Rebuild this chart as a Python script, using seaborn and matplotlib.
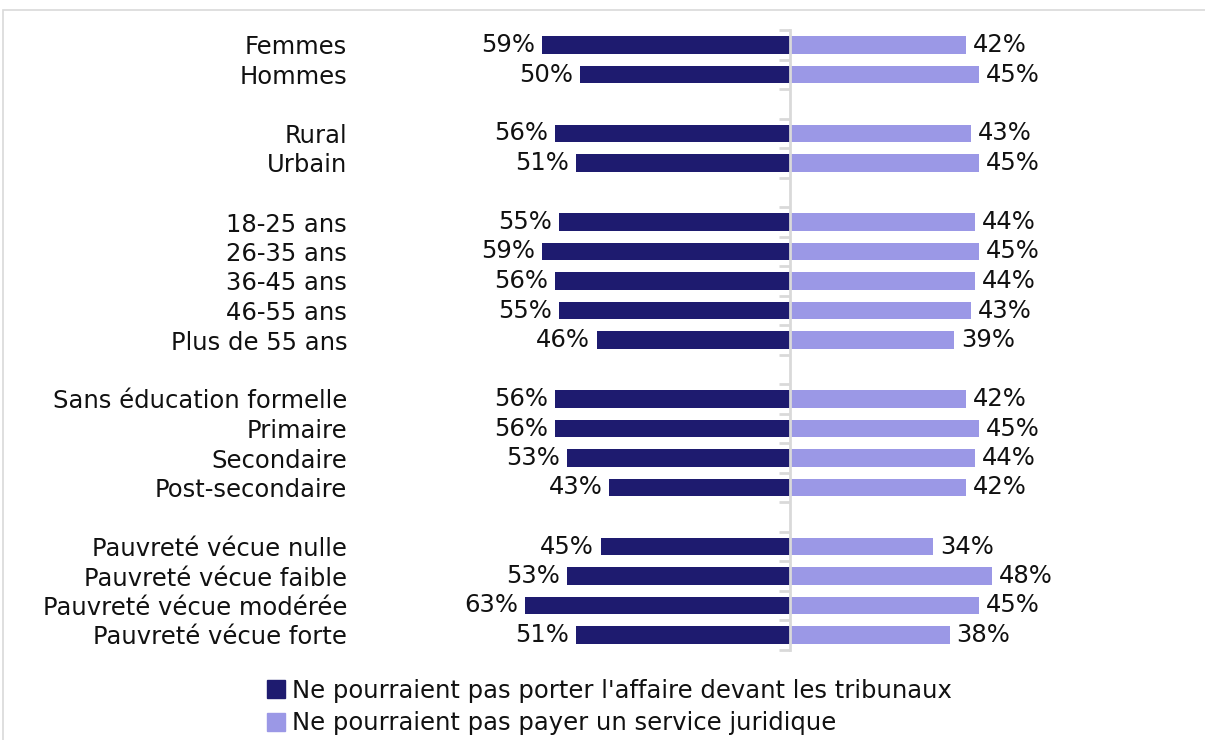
import seaborn as sns
import matplotlib.pyplot as plt
import matplotlib.patches as mpatches
import pandas as pd
import numpy as np

# Data ("" entries are the blank spacer rows)
categories = ['Femmes', 'Hommes', '',
              'Rural', 'Urbain', '',
              '18-25 ans', '26-35 ans', '36-45 ans', '46-55 ans', 'Plus de 55 ans', '',
              'Sans éducation formelle', 'Primaire', 'Secondaire', 'Post-secondaire', '',
              'Pauvreté vécue nulle', 'Pauvreté vécue faible', 'Pauvreté vécue modérée', 'Pauvreté vécue forte']
tribunaux = [59, 50, None, 56, 51, None, 55, 59, 56, 55, 46, None, 56, 56, 53, 43, None, 45, 53, 63, 51]
juridique = [42, 45, None, 43, 45, None, 44, 45, 44, 43, 39, None, 42, 45, 44, 42, None, 34, 48, 45, 38]

series_names = ["Ne pourraient pas porter l'affaire devant les tribunaux",
                "Ne pourraient pas payer un service juridique"]
colors = ['#1e1b6f', '#9b98e6']

# unique keys so the blank rows keep their own slot
keys = [f'{i:02d}' for i in range(len(categories))]
rows = []
for k, a, b in zip(keys, tribunaux, juridique):
    if a is not None:
        rows.append({'key': k, 'serie': series_names[0], 'value': -a})
        rows.append({'key': k, 'serie': series_names[1], 'value': b})
df = pd.DataFrame(rows)

sns.set_theme(style='white')
plt.rcParams['font.family'] = ['DejaVu Sans']
fs = 17.5
txt = '#111111'
grey = '#d9d9d9'

fig = plt.figure(figsize=(12.05, 7.40), dpi=100)
rect = [400 / 1205, 1 - 649.75 / 740, 780 / 1205, (649.75 - 30.25) / 740]
ax = fig.add_axes(rect)

sns.barplot(data=df, x='value', y='key', hue='serie', order=keys,
            hue_order=series_names, palette=colors, dodge=False, saturation=1,
            orient='h', width=0.6, ax=ax, legend=False, errorbar=None,
            linewidth=0)

half = 390 / 4.2
ax.set_xlim(-half, half)
ax.set_ylim(len(keys) - 0.5, -0.5)
for s in ax.spines.values():
    s.set_visible(False)
ax.set_xticks([])
ax.set_xlabel('')
ax.set_ylabel('')
ax.set_yticks(range(len(keys)))
ax.set_yticklabels(categories, fontsize=fs, color=txt)
ax.tick_params(axis='y', length=0, pad=38)

# centre axis with tick marks between categories
ax2 = fig.add_axes(rect, facecolor='none')
ax2.set_ylim(ax.get_ylim())
ax2.set_xlim(0, 1)
for name, s in ax2.spines.items():
    s.set_visible(name == 'left')
ax2.spines['left'].set_position(('axes', 0.5))
ax2.spines['left'].set_color(grey)
ax2.spines['left'].set_linewidth(2)
ax2.set_xticks([])
ax2.set_yticks(np.arange(-0.5, len(keys), 1.0))
ax2.set_yticklabels([])
ax2.tick_params(axis='y', left=True, right=False, length=8, width=2,
                color=grey, direction='out')

for cont in ax.containers:
    vals = cont.datavalues
    labels = [f'{abs(v):.0f}%' if not np.isnan(v) else '' for v in vals]
    ax.bar_label(cont, labels=labels, padding=5, fontsize=fs, color=txt)

handles = [mpatches.Patch(color=c, label=n) for c, n in zip(colors, series_names)]
leg = fig.legend(handles=handles, loc='upper left', bbox_to_anchor=(257 / 1205, 1 - 669 / 740),
                 frameon=False, fontsize=fs, handlelength=0.75, handleheight=0.75,
                 handletextpad=0.3, labelspacing=0.35, borderaxespad=0)
for t in leg.get_texts():
    t.set_color(txt)

# light chart frame
fig.patches.append(mpatches.Rectangle((3 / 1205, -0.05), 1.1, 1 - 10 / 740 + 0.05,
                                      transform=fig.transFigure, fill=False,
                                      edgecolor=grey, linewidth=1.2))

fig.savefig('out.png', dpi=100)
